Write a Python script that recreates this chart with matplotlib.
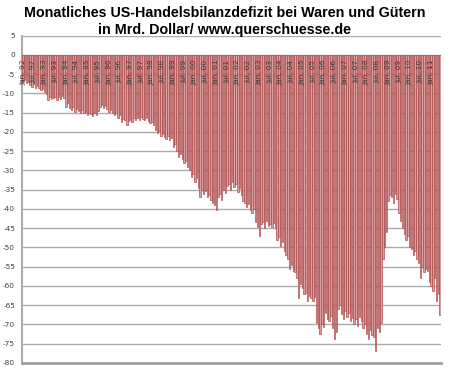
import matplotlib
matplotlib.use("Agg")
import matplotlib.pyplot as plt
import numpy as np

# Monthly US goods trade balance, bn USD, Jan 1992 - Jun 2011
y1992 = [-6.9, -6.5, -7.3, -7.0, -7.8, -8.2, -7.6, -8.5, -8.0, -8.6, -9.2, -8.8]
y1993 = [-9.5, -10.2, -11.6, -10.8, -11.5, -11.2, -10.9, -11.6, -11.0, -11.4, -10.6, -11.3]
y1994 = [-13.4, -12.5, -13.8, -14.2, -13.6, -14.7, -14.1, -14.5, -15.0, -14.3, -15.2, -14.8]
y1995 = [-15.5, -15.0, -15.4, -15.8, -15.2, -15.6, -14.6, -13.5, -13.0, -13.7, -13.2, -14.0]
y1996 = [-14.8, -14.2, -15.1, -15.6, -15.0, -16.3, -15.5, -17.4, -16.6, -17.0, -18.1, -17.2]
y1997 = [-16.8, -17.4, -16.3, -16.9, -16.5, -17.0, -16.1, -16.6, -17.0, -16.4, -17.2, -17.6]
y1998 = [-17.5, -18.2, -19.4, -20.2, -19.8, -21.0, -20.6, -21.3, -21.8, -21.0, -22.0, -21.5]
y1999 = [-24.0, -23.2, -25.0, -26.4, -25.8, -27.0, -28.1, -27.5, -29.0, -30.0, -31.6, -30.8]
y2000 = [-33.0, -32.0, -34.5, -36.8, -35.2, -36.0, -35.4, -37.0, -36.5, -37.6, -38.4, -39.0]
y2001 = [-40.2, -37.0, -36.0, -37.6, -35.2, -35.8, -34.0, -33.5, -35.0, -33.0, -34.2, -33.6]
y2002 = [-35.5, -34.6, -36.5, -38.0, -38.4, -39.5, -38.8, -40.2, -41.0, -40.0, -43.5, -44.8]
y2003 = [-47.0, -44.0, -43.5, -45.0, -43.2, -44.3, -43.8, -44.8, -43.6, -45.0, -48.0, -47.3]
y2004 = [-49.5, -48.6, -51.0, -52.0, -53.0, -55.5, -54.5, -56.0, -56.5, -58.0, -63.0, -59.5]
y2005 = [-60.5, -62.0, -61.7, -64.0, -62.5, -63.0, -64.0, -62.8, -69.5, -71.0, -72.5, -70.0]
y2006 = [-70.7, -67.0, -68.5, -69.0, -67.8, -71.0, -73.8, -72.0, -66.0, -65.0, -67.2, -68.7]
y2007 = [-66.5, -68.0, -67.0, -69.0, -68.2, -70.0, -68.5, -70.5, -68.0, -69.2, -71.0, -70.0]
y2008 = [-72.5, -73.8, -71.5, -72.8, -73.2, -77.0, -71.0, -72.0, -69.5, -53.0, -50.0, -46.0]
y2009 = [-38.0, -36.5, -37.0, -38.5, -36.2, -37.5, -41.0, -43.0, -45.0, -46.5, -48.0, -47.0]
y2010 = [-50.0, -50.5, -52.0, -51.0, -53.0, -54.0, -58.0, -55.0, -56.5, -55.5, -56.0, -59.0]
y2011 = [-60.0, -61.4, -58.0, -64.0, -62.0, -67.5]

values = (y1992 + y1993 + y1994 + y1995 + y1996 + y1997 + y1998 + y1999 + y2000 +
          y2001 + y2002 + y2003 + y2004 + y2005 + y2006 + y2007 + y2008 + y2009 +
          y2010 + y2011)

years = ["92", "93", "94", "95", "96", "97", "98", "99", "00", "01",
         "02", "03", "04", "05", "06", "07", "08", "09", "10", "11"]
tick_labels = []
for yy in years:
    tick_labels.append("Jan. " + yy)
    if yy != "11":
        tick_labels.append("Jul. " + yy)

yticks = list(range(5, -85, -5))

title = "Monatliches US-Handelsbilanzdefizit bei Waren und Gütern\nin Mrd. Dollar/ www.querschuesse.de"

fig = plt.figure(figsize=(4.5, 3.69), dpi=100)
ax = fig.add_axes([0.049, 0.0163, 0.931, 0.887])

x = np.arange(len(values))
ax.bar(x, values, width=0.8, color="#dca0a0", edgecolor="#a84444", linewidth=0.45, zorder=3)

ax.set_ylim(-80, 5)
ax.set_xlim(-0.5, len(values) - 0.5)
ax.set_yticks(yticks)
ax.set_yticklabels([str(v) for v in yticks], fontsize=5.3, color="#404040")
ax.tick_params(axis="y", length=0, pad=5)
ax.set_xticks([])
for t in yticks:
    if t > -80:
        ax.axhline(t, color="#ababab", linewidth=1.0, zorder=1)

for i, lab in enumerate(tick_labels):
    ax.text(i * 6, -1.2, lab, rotation=90, ha="center", va="top",
            fontsize=5.3, color="#3a3a3a", zorder=4)

for s in ["top", "right"]:
    ax.spines[s].set_visible(False)
ax.spines["left"].set_color("#ababab")
ax.spines["left"].set_linewidth(1.5)
ax.spines["bottom"].set_color("#a0a0a0")
ax.spines["bottom"].set_linewidth(2.0)

fig.text(0.5, 0.985, title, ha="center", va="top", fontsize=10.3,
         fontweight="bold", family="Liberation Sans", linespacing=1.3)

fig.savefig("out.png", dpi=100)
